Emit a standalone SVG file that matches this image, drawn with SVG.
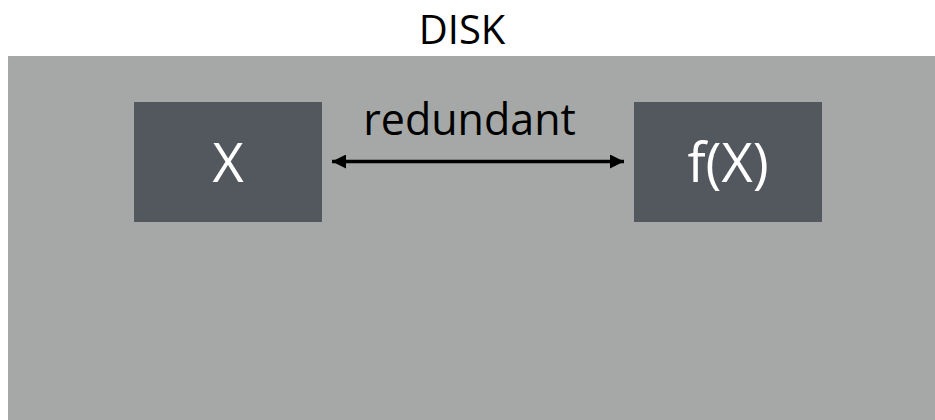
<svg xmlns="http://www.w3.org/2000/svg" width="935" height="420" viewBox="0 0 935 420">
  <style>
    .lbl { font-family: "Open Sans", "Liberation Sans", sans-serif; fill: #000000; text-anchor: middle; }
    .box { fill: #53575e; }
    .boxtxt { font-family: "Open Sans", "Liberation Sans", sans-serif; fill: #ffffff; font-size: 54px; text-anchor: middle; }
    .conn { stroke: #000000; stroke-width: 3.5; fill: none; }
  </style>
  <defs>
    <marker id="ah" viewBox="0 0 10 10" refX="10" refY="5" markerWidth="4.4" markerHeight="4" orient="auto-start-reverse" markerUnits="strokeWidth">
      <path d="M0,0 L10,5 L0,10 z" fill="#000000"/>
    </marker>
  </defs>
  <rect x="0" y="0" width="935" height="420" fill="#ffffff"/>
  <g id="disk">
    <rect x="8" y="56" width="927" height="364" fill="#a5a8a6"/>
    <text class="lbl" x="462" y="44" font-size="40">DISK</text>
  </g>
  <g id="node-x">
    <rect class="box" x="134" y="102" width="188" height="120"/>
    <text class="boxtxt" x="228" y="182">X</text>
  </g>
  <g id="node-fx">
    <rect class="box" x="634" y="102" width="188" height="120"/>
    <text class="boxtxt" x="728" y="182">f(X)</text>
  </g>
  <g id="connectors">
    <line class="conn" x1="332" y1="161.5" x2="624" y2="161.5" marker-start="url(#ah)" marker-end="url(#ah)"/>
    <text class="lbl" x="469.5" y="135" font-size="43">redundant</text>
  </g>
</svg>
